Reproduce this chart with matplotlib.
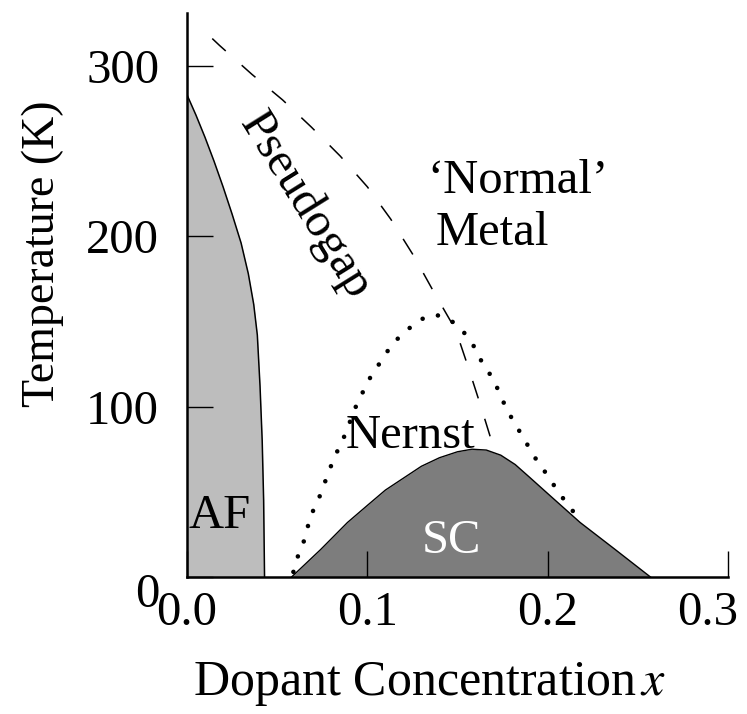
import matplotlib
matplotlib.use("Agg")
import matplotlib.pyplot as plt
from matplotlib.transforms import ScaledTranslation

plt.rcParams['font.family'] = ['Liberation Serif', 'DejaVu Serif']
plt.rcParams['mathtext.fontset'] = 'stix'

# antiferromagnetic region boundary
af_x = [0.0, 0.005, 0.010, 0.015, 0.020, 0.025, 0.030, 0.034, 0.037,
        0.039, 0.0405, 0.0417, 0.0425, 0.043]
af_t = [283, 271, 258, 244, 229, 213, 196, 178, 160,
        142, 112, 80, 45, 0]

# superconducting dome
sc_x = [0.058, 0.074, 0.089, 0.100, 0.110, 0.120, 0.130, 0.140, 0.150,
        0.158, 0.166, 0.174, 0.182, 0.190, 0.200, 0.218, 0.237, 0.257]
sc_t = [0, 16, 32, 42, 51, 58, 65, 70, 73.5,
        75, 74.5, 71.5, 66, 58.5, 49, 32, 16.5, 0]

# Nernst region (dotted)
nernst_x = [0.059, 0.062, 0.066, 0.068, 0.072, 0.0756, 0.079, 0.083, 0.087, 0.094,
            0.101, 0.109, 0.114, 0.121, 0.129, 0.138, 0.147, 0.154, 0.160, 0.164,
            0.170, 0.174, 0.178, 0.183, 0.188, 0.193, 0.199, 0.204, 0.210, 0.216]
nernst_t = [3, 14, 24, 35, 43, 53, 63, 73, 82, 101,
            116, 129, 137, 144, 151, 154, 150, 143, 134, 125,
            116, 106, 97, 88, 79, 70, 61, 53, 44, 36]

# pseudogap crossover (dashed)
pg_x = [0.014, 0.018, 0.036, 0.053, 0.069, 0.085, 0.100, 0.113, 0.126,
        0.137, 0.149, 0.156, 0.163, 0.170]
pg_t = [316, 312, 295, 280, 264, 247, 229, 210, 188,
        167, 145, 123, 100, 76]

x_ticks = [0.0, 0.1, 0.2, 0.3]
x_labels = ['0.0', '0.1', '0.2', '0.3']
y_ticks = [0, 100, 200, 300]
y_labels = ['0', '100', '200', '300']

fig = plt.figure(figsize=(7.47, 7.14), dpi=100)
ax = fig.add_axes([187 / 747, 137 / 714, 541 / 747, 564 / 714])

ax.fill_between(af_x, 0, af_t, color='#bdbdbd', lw=0, zorder=1)
ax.plot(af_x, af_t, color='black', lw=1.1, zorder=2)

ax.fill_between(sc_x, 0, sc_t, color='#7d7d7d', lw=0, zorder=1)
ax.plot(sc_x, sc_t, color='black', lw=1.0, zorder=2)

ax.plot(nernst_x, nernst_t, color='black', lw=3.3,
        linestyle=(0, (0.01, 3.5)), dash_capstyle='round', zorder=3)
ax.plot(pg_x, pg_t, color='black', lw=1.1,
        linestyle=(0, (12, 14)), zorder=3)

fs = 35
ax.text(0.0656, 218, 'Pseudogap', rotation=-58, rotation_mode='anchor',
        ha='center', va='center', fontsize=fs)
ax.text(0.1333, 225.5, '\u2018Normal\u2019', ha='left', va='baseline', fontsize=fs)
ax.text(0.1378, 195, 'Metal', ha='left', va='baseline', fontsize=fs)
ax.text(0.124, 76, 'Nernst', ha='center', va='baseline', fontsize=fs)
ax.text(0.0183, 29, 'AF', ha='center', va='baseline', fontsize=fs)
ax.text(0.1467, 14, 'SC', ha='center', va='baseline', fontsize=fs, color='white')

ax.set_xlim(0, 0.3)
ax.set_ylim(0, 331)
ax.set_xticks(x_ticks, x_labels)
ax.set_yticks(y_ticks, y_labels)
ax.tick_params(direction='in', length=19, width=1.0, labelsize=fs)
ax.tick_params(axis='x', pad=10)
ax.tick_params(axis='y', pad=20)

# last x label sits a little left of its tick, as in the original
last = ax.get_xticklabels()[-1]
last.set_transform(last.get_transform() + ScaledTranslation(-0.2, 0, fig.dpi_scale_trans))
# the "0" on the y axis sits a bit below the corner
zero = ax.get_yticklabels()[0]
zero.set_transform(zero.get_transform() + ScaledTranslation(0, -0.13, fig.dpi_scale_trans))

for s in ['top', 'right']:
    ax.spines[s].set_visible(False)
for s in ['left', 'bottom']:
    ax.spines[s].set_linewidth(1.8)

ax.set_xlabel('Dopant Concentration$\\,x$', fontsize=36)
ax.set_ylabel('Temperature (K)', fontsize=33)
ax.xaxis.set_label_coords(0.449, -0.147)
ax.yaxis.set_label_coords(-0.227, 0.574)

fig.savefig('out.png', dpi=100)
